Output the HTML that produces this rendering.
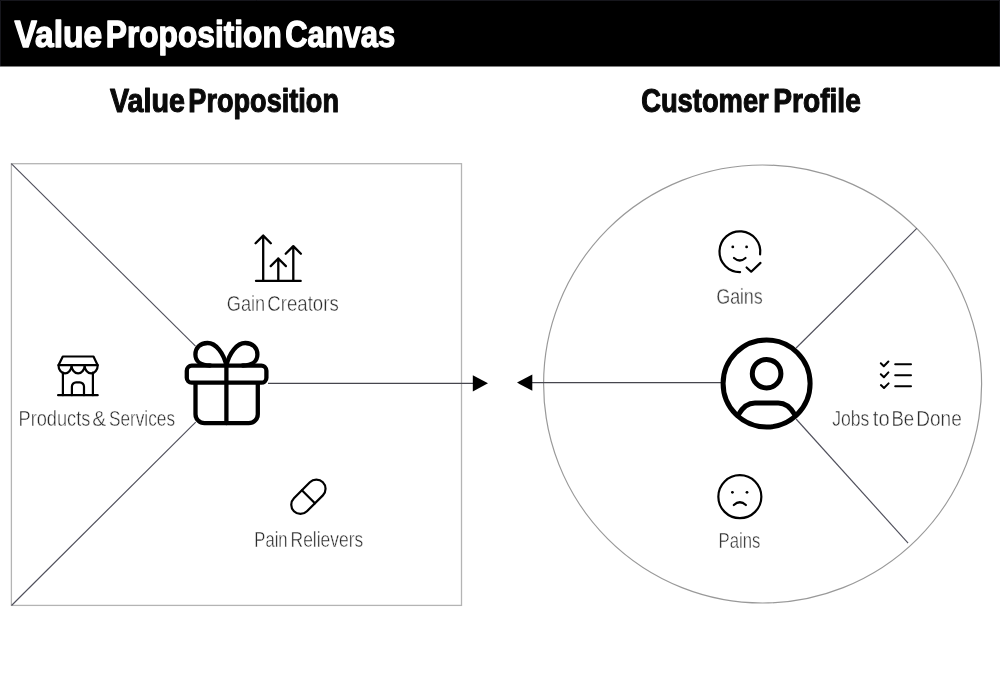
<!DOCTYPE html>
<html>
<head>
<meta charset="utf-8">
<style>
html,body{margin:0;padding:0;background:#fff;width:1000px;height:677px;overflow:hidden;}
svg{display:block;will-change:transform;}
text{font-family:"Liberation Sans",sans-serif;}
.ic{fill:none;stroke:#000;stroke-linecap:round;stroke-linejoin:round;}
</style>
</head>
<body>
<svg width="1000" height="677" viewBox="0 0 1000 677">
<rect x="0" y="0" width="1000" height="66.5" fill="#000"/>
<path d="M0.5,66 V0.5 H999.5 V66" fill="none" stroke="#16161c" stroke-width="1"/>
<text transform="translate(14.40,47.3) scale(0.9083,1)" font-weight="bold" font-size="37" fill="#fff" stroke="#fff" stroke-width="1.3" stroke-linejoin="round">Value</text>
<text transform="translate(105.79,47.3) scale(0.8569,1)" font-weight="bold" font-size="37" fill="#fff" stroke="#fff" stroke-width="1.3" stroke-linejoin="round">Proposition</text>
<text transform="translate(285.16,47.3) scale(0.8369,1)" font-weight="bold" font-size="37" fill="#fff" stroke="#fff" stroke-width="1.3" stroke-linejoin="round">Canvas</text>
<text transform="translate(110.00,111.9) scale(0.8893,1)" font-weight="bold" font-size="32.3" fill="#0a0a0a" stroke="#0a0a0a" stroke-width="1.1" stroke-linejoin="round">Value</text>
<text transform="translate(188.32,111.9) scale(0.8398,1)" font-weight="bold" font-size="32.3" fill="#0a0a0a" stroke="#0a0a0a" stroke-width="1.1" stroke-linejoin="round">Proposition</text>
<text transform="translate(641.15,111.9) scale(0.8467,1)" font-weight="bold" font-size="32.3" fill="#0a0a0a" stroke="#0a0a0a" stroke-width="1.1" stroke-linejoin="round">Customer</text>
<text transform="translate(773.26,111.9) scale(0.8714,1)" font-weight="bold" font-size="32.3" fill="#0a0a0a" stroke="#0a0a0a" stroke-width="1.1" stroke-linejoin="round">Profile</text>
<text transform="translate(226.75,310.8) scale(0.8512,1)" font-weight="normal" font-size="21.4" fill="#2a2a2a" stroke="#fff" stroke-width="0.45">Gain</text>
<text transform="translate(267.33,310.8) scale(0.8700,1)" font-weight="normal" font-size="21.4" fill="#2a2a2a" stroke="#fff" stroke-width="0.45">Creators</text>
<text transform="translate(18.50,425.8) scale(0.8512,1)" font-weight="normal" font-size="21.4" fill="#2a2a2a" stroke="#fff" stroke-width="0.45">Products</text>
<text transform="translate(92.27,425.8) scale(0.9808,1)" font-weight="normal" font-size="21.4" fill="#2a2a2a" stroke="#fff" stroke-width="0.45">&amp;</text>
<text transform="translate(108.94,425.8) scale(0.8056,1)" font-weight="normal" font-size="21.4" fill="#2a2a2a" stroke="#fff" stroke-width="0.45">Services</text>
<text transform="translate(254.34,546.7) scale(0.7775,1)" font-weight="normal" font-size="21.4" fill="#2a2a2a" stroke="#fff" stroke-width="0.45">Pain</text>
<text transform="translate(290.57,546.7) scale(0.8140,1)" font-weight="normal" font-size="21.4" fill="#2a2a2a" stroke="#fff" stroke-width="0.45">Relievers</text>
<text transform="translate(716.27,303.9) scale(0.8315,1)" font-weight="normal" font-size="21.4" fill="#2a2a2a" stroke="#fff" stroke-width="0.45">Gains</text>
<text transform="translate(718.54,547.8) scale(0.7804,1)" font-weight="normal" font-size="21.4" fill="#2a2a2a" stroke="#fff" stroke-width="0.45">Pains</text>
<text transform="translate(832.18,426) scale(0.8233,1)" font-weight="normal" font-size="21.4" fill="#2a2a2a" stroke="#fff" stroke-width="0.45">Jobs</text>
<text transform="translate(872.80,426) scale(0.9412,1)" font-weight="normal" font-size="21.4" fill="#2a2a2a" stroke="#fff" stroke-width="0.45">to</text>
<text transform="translate(891.46,426) scale(0.8696,1)" font-weight="normal" font-size="21.4" fill="#2a2a2a" stroke="#fff" stroke-width="0.45">Be</text>
<text transform="translate(916.22,426) scale(0.8917,1)" font-weight="normal" font-size="21.4" fill="#2a2a2a" stroke="#fff" stroke-width="0.45">Done</text>
  <!-- square -->
  <rect x="11.4" y="163.7" width="450.1" height="441.7" fill="none" stroke="#b4b4b4" stroke-width="1.3"/>
  <line x1="11.3" y1="163.6" x2="195.5" y2="346.2" stroke="#50505c" stroke-width="1.15"/>
  <line x1="11.5" y1="605.5" x2="195.7" y2="422.2" stroke="#50505c" stroke-width="1.15"/>
  <line x1="268" y1="383.35" x2="474" y2="383.35" stroke="#46464e" stroke-width="1.25"/>
  <polygon points="472.8,375.2 488,383.3 472.8,391.4" fill="#000"/>

  <!-- circle -->
  <circle cx="762.6" cy="384" r="219" fill="none" stroke="#999" stroke-width="1.2"/>
  <line x1="531" y1="382.6" x2="722" y2="382.6" stroke="#46464e" stroke-width="1.25"/>
  <polygon points="517,382.6 532.3,374.5 532.3,390.7" fill="#000"/>
  <line x1="796.1" y1="348" x2="916.8" y2="228.4" stroke="#50505c" stroke-width="1.15"/>
  <line x1="796.1" y1="419" x2="908.1" y2="543.2" stroke="#50505c" stroke-width="1.15"/>

  <!-- gift -->
  <g class="ic" stroke-width="4.3">
    <rect x="186.8" y="365.7" width="79.6" height="17" rx="5"/>
    <path d="M195.5,384 V414.2 a9,9 0 0 0 9,9 H248.8 a9,9 0 0 0 9,-9 V384"/>
    <line x1="226.4" y1="365" x2="226.4" y2="423.2"/>
    <path d="M226.4,365.5 C223.5,353 216,343 207.5,343 C200,343 195.4,348 195.4,354.5 C195.4,361.5 201,365.5 210,365.5"/>
    <path d="M226.4,365.5 C229.3,353 236.8,343 245.3,343 C252.8,343 257.4,348 257.4,354.5 C257.4,361.5 251.8,365.5 242.8,365.5"/>
  </g>

  <!-- person -->
  <g class="ic" stroke-width="5">
    <circle cx="766.6" cy="383.5" r="43.5" fill="#fff"/>
    <circle cx="766.6" cy="373.7" r="14.3"/>
    <path d="M738.6,414.4 C743,406.4 749,402.9 755,402.9 H778.2 C784.2,402.9 790.2,406.4 794.6,414.4"/>
  </g>

  <!-- storefront -->
  <g class="ic" stroke-width="2.2">
    <path d="M62.8,356.5 H93.5 L97.7,365.2 H58.5 Z"/>
    <path d="M58.5,365.2 a6.53,8.2 0 0 0 13.07,0 a6.53,8.2 0 0 0 13.07,0 a6.53,8.2 0 0 0 13.07,0"/>
    <line x1="62.9" y1="372.5" x2="62.9" y2="395.2"/>
    <line x1="92.9" y1="372.5" x2="92.9" y2="395.2"/>
    <path d="M71.9,395.2 V386.6 a4.2,4.2 0 0 1 4.2,-4.2 H79.8 a4.2,4.2 0 0 1 4.2,4.2 V395.2"/>
    <line x1="58.1" y1="395.2" x2="97.7" y2="395.2"/>
  </g>

  <!-- gain creators -->
  <g class="ic" stroke-width="2.3">
    <line x1="256" y1="280.9" x2="300.7" y2="280.9"/>
    <path d="M263.2,280.9 V235.6 M255.6,243.3 L263.2,235.6 L270.8,243.3"/>
    <path d="M278.3,280.9 V258.5 M270.7,266.1 L278.3,258.5 L285.9,266.1"/>
    <path d="M293.3,280.9 V246.1 M285.7,253.7 L293.3,246.1 L300.9,253.7"/>
  </g>

  <!-- pill -->
  <g class="ic" stroke-width="2.2" transform="translate(308.4,496.8) rotate(-45)">
    <rect x="-20.45" y="-9.2" width="40.9" height="18.4" rx="9.2"/>
    <line x1="0" y1="-9.2" x2="0" y2="9.2"/>
  </g>

  <!-- gains -->
  <g class="ic" stroke-width="2.2">
    <path d="M740.1,272.1 A20.4,20.4 0 1 1 760.1,254.4"/>
    <path d="M734,258 Q739.8,263 745.5,258"/>
    <path d="M746.6,267.5 L751.2,271.7 L760.5,262.9"/>
  </g>
  <circle cx="732.8" cy="246.9" r="1.4" fill="#000"/>
  <circle cx="746.6" cy="246.9" r="1.4" fill="#000"/>

  <!-- jobs -->
  <g class="ic" stroke-width="2">
    <path d="M880.8,363.3 L883.8,366.2 L888.4,361.5"/>
    <path d="M880.8,374.2 L883.9,377.2 L888.4,372.4"/>
    <path d="M880.9,385.1 L884,388 L888.6,383.4"/>
    <line x1="895.2" y1="364.3" x2="911" y2="364.3"/>
    <line x1="895.2" y1="375.3" x2="911" y2="375.3"/>
    <line x1="895.2" y1="386.2" x2="911" y2="386.2"/>
  </g>

  <!-- pains -->
  <g class="ic" stroke-width="2.2">
    <circle cx="739.85" cy="496.7" r="21.5"/>
    <path d="M733.8,505 Q739.85,499.5 745.9,505"/>
  </g>
  <circle cx="732.4" cy="492.3" r="1.4" fill="#000"/>
  <circle cx="747" cy="492.3" r="1.4" fill="#000"/>

</svg>
</body>
</html>
